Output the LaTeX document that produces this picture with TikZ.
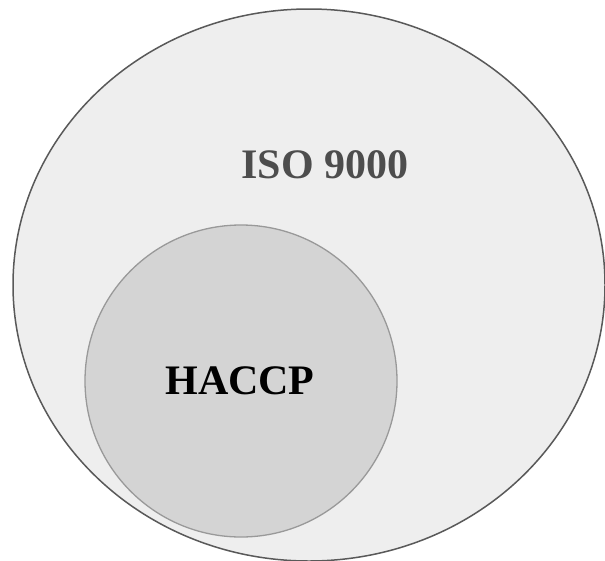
\documentclass[tikz,border=0pt]{standalone}
\usepackage{fontspec}
\setmainfont{Liberation Serif}
\definecolor{outerfill}{HTML}{EEEEEE}
\definecolor{outerline}{HTML}{595959}
\definecolor{innerfill}{HTML}{D4D4D4}
\definecolor{innerline}{HTML}{999999}
\definecolor{isotext}{HTML}{4D4D4D}
\tikzset{
  setlabel/.style={font=\fontsize{42}{50}\selectfont\bfseries}
}
\begin{document}
\begin{tikzpicture}[x=1pt,y=-1pt]
\useasboundingbox (0,0) rectangle (605,560);
\clip (0,0) rectangle (605,560);

\filldraw[fill=outerfill,draw=outerline,line width=1.5pt]
    (309,285) ellipse [x radius=296, y radius=276];
\filldraw[fill=innerfill,draw=innerline,line width=1.3pt]
    (241,381) circle (156);

\node[setlabel,text=isotext] (iso) at (325,165) {ISO 9000};
\node[setlabel,text=black] (haccp) at (240,381) {HACCP};
\end{tikzpicture}
\end{document}
